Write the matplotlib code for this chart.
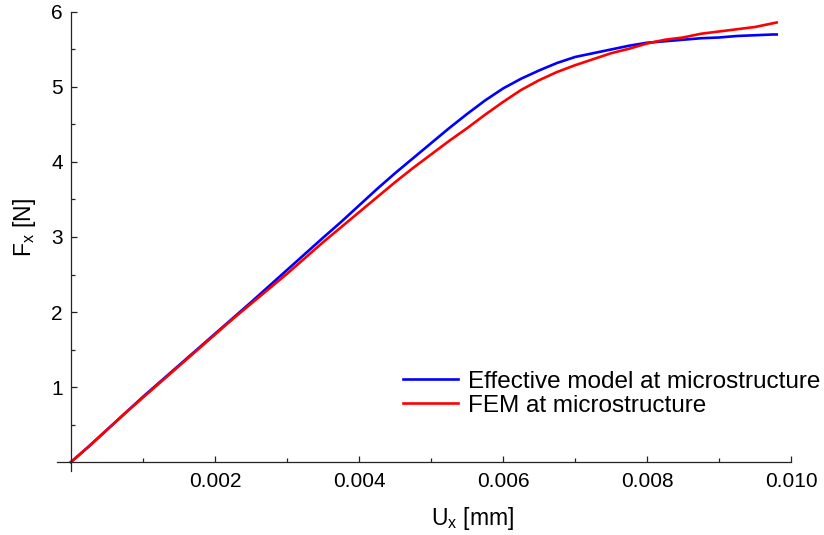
import matplotlib
matplotlib.use("Agg")
import matplotlib.pyplot as plt
from matplotlib.ticker import FixedLocator

plt.rcParams['font.family'] = ['Liberation Sans', 'DejaVu Sans']
plt.rcParams['mathtext.fontset'] = 'custom'
plt.rcParams['mathtext.rm'] = 'Liberation Sans'

# displacement [mm] and force [N]
ux = [0, 0.00025, 0.0005, 0.00075, 0.001, 0.00125, 0.0015, 0.00175, 0.002,
      0.00225, 0.0025, 0.00275, 0.003, 0.00325, 0.0035, 0.00375, 0.004,
      0.00425, 0.0045, 0.00475, 0.005, 0.00525, 0.0055, 0.00575, 0.006,
      0.00625, 0.0065, 0.00675, 0.007, 0.00725, 0.0075, 0.00775, 0.008,
      0.00825, 0.0085, 0.00875, 0.009, 0.00925, 0.0095, 0.00975, 0.0098]
fx_effective = [0, 0.21, 0.43, 0.65, 0.87, 1.08, 1.29, 1.50, 1.71,
                1.92, 2.13, 2.345, 2.56, 2.775, 2.99, 3.20, 3.42,
                3.64, 3.85, 4.05, 4.25, 4.45, 4.64, 4.82, 4.98,
                5.11, 5.22, 5.32, 5.40, 5.45, 5.50, 5.55, 5.59,
                5.61, 5.63, 5.65, 5.66, 5.68, 5.69, 5.70, 5.70]
fx_fem = [0, 0.21, 0.43, 0.65, 0.86, 1.07, 1.28, 1.49, 1.70,
          1.91, 2.11, 2.31, 2.51, 2.72, 2.93, 3.13, 3.33,
          3.53, 3.73, 3.92, 4.10, 4.28, 4.45, 4.63, 4.80,
          4.96, 5.09, 5.20, 5.29, 5.37, 5.45, 5.51, 5.58,
          5.63, 5.66, 5.71, 5.74, 5.77, 5.80, 5.85, 5.86]

x_ticks = [0.002, 0.004, 0.006, 0.008, 0.010]
x_ticklabels = ["0.002", "0.004", "0.006", "0.008", "0.010"]
x_minor = [0.001, 0.003, 0.005, 0.007, 0.009]
y_ticks = [1, 2, 3, 4, 5, 6]
y_minor = [0.5, 1.5, 2.5, 3.5, 4.5, 5.5]

fig = plt.figure(figsize=(8.24, 5.35), dpi=100)
ax = fig.add_axes([0.0687, 0.1196, 0.8913, 0.858])

ax.plot(ux, fx_effective, color=(0, 0, 1), lw=1.9, label="Effective model at microstructure")
ax.plot(ux, fx_fem, color=(1, 0, 0), lw=1.9, label="FEM at microstructure")

ax.set_xlim(-0.0002, 0.0100)
ax.set_ylim(-0.12, 6.0)

# axes crossing at the origin
ax.spines['left'].set_position(('data', 0))
ax.spines['bottom'].set_position(('data', 0))
ax.spines['top'].set_visible(False)
ax.spines['right'].set_visible(False)
for s in ('left', 'bottom'):
    ax.spines[s].set_linewidth(0.9)
    ax.spines[s].set_color('#222222')

ax.xaxis.set_major_locator(FixedLocator(x_ticks))
ax.set_xticklabels(x_ticklabels)
ax.xaxis.set_minor_locator(FixedLocator(x_minor))
ax.yaxis.set_major_locator(FixedLocator(y_ticks))
ax.yaxis.set_minor_locator(FixedLocator(y_minor))

ax.tick_params(which='both', direction='in', width=0.9, color='#222222',
               labelsize=15)
ax.tick_params(which='major', length=4.5)
ax.tick_params(which='minor', length=3)
ax.tick_params(axis='x', which='major', pad=7)
ax.tick_params(axis='y', which='major', pad=6)

fig.text(0.573, 0.031, r"U$_\mathregular{x}$ [mm]", fontsize=16.5, ha='center', va='center')
fig.text(0.030, 0.574, r"F$_\mathregular{x}$ [N]", fontsize=16.5, ha='center', va='center',
         rotation=90)

ax.legend(loc='upper left', bbox_to_anchor=(0.489, 0.307), bbox_transform=fig.transFigure,
          frameon=False, fontsize=17.5, borderpad=0, borderaxespad=0,
          handlelength=2.25, handletextpad=0.42, labelspacing=0.08)

fig.savefig("out.png", dpi=100)
